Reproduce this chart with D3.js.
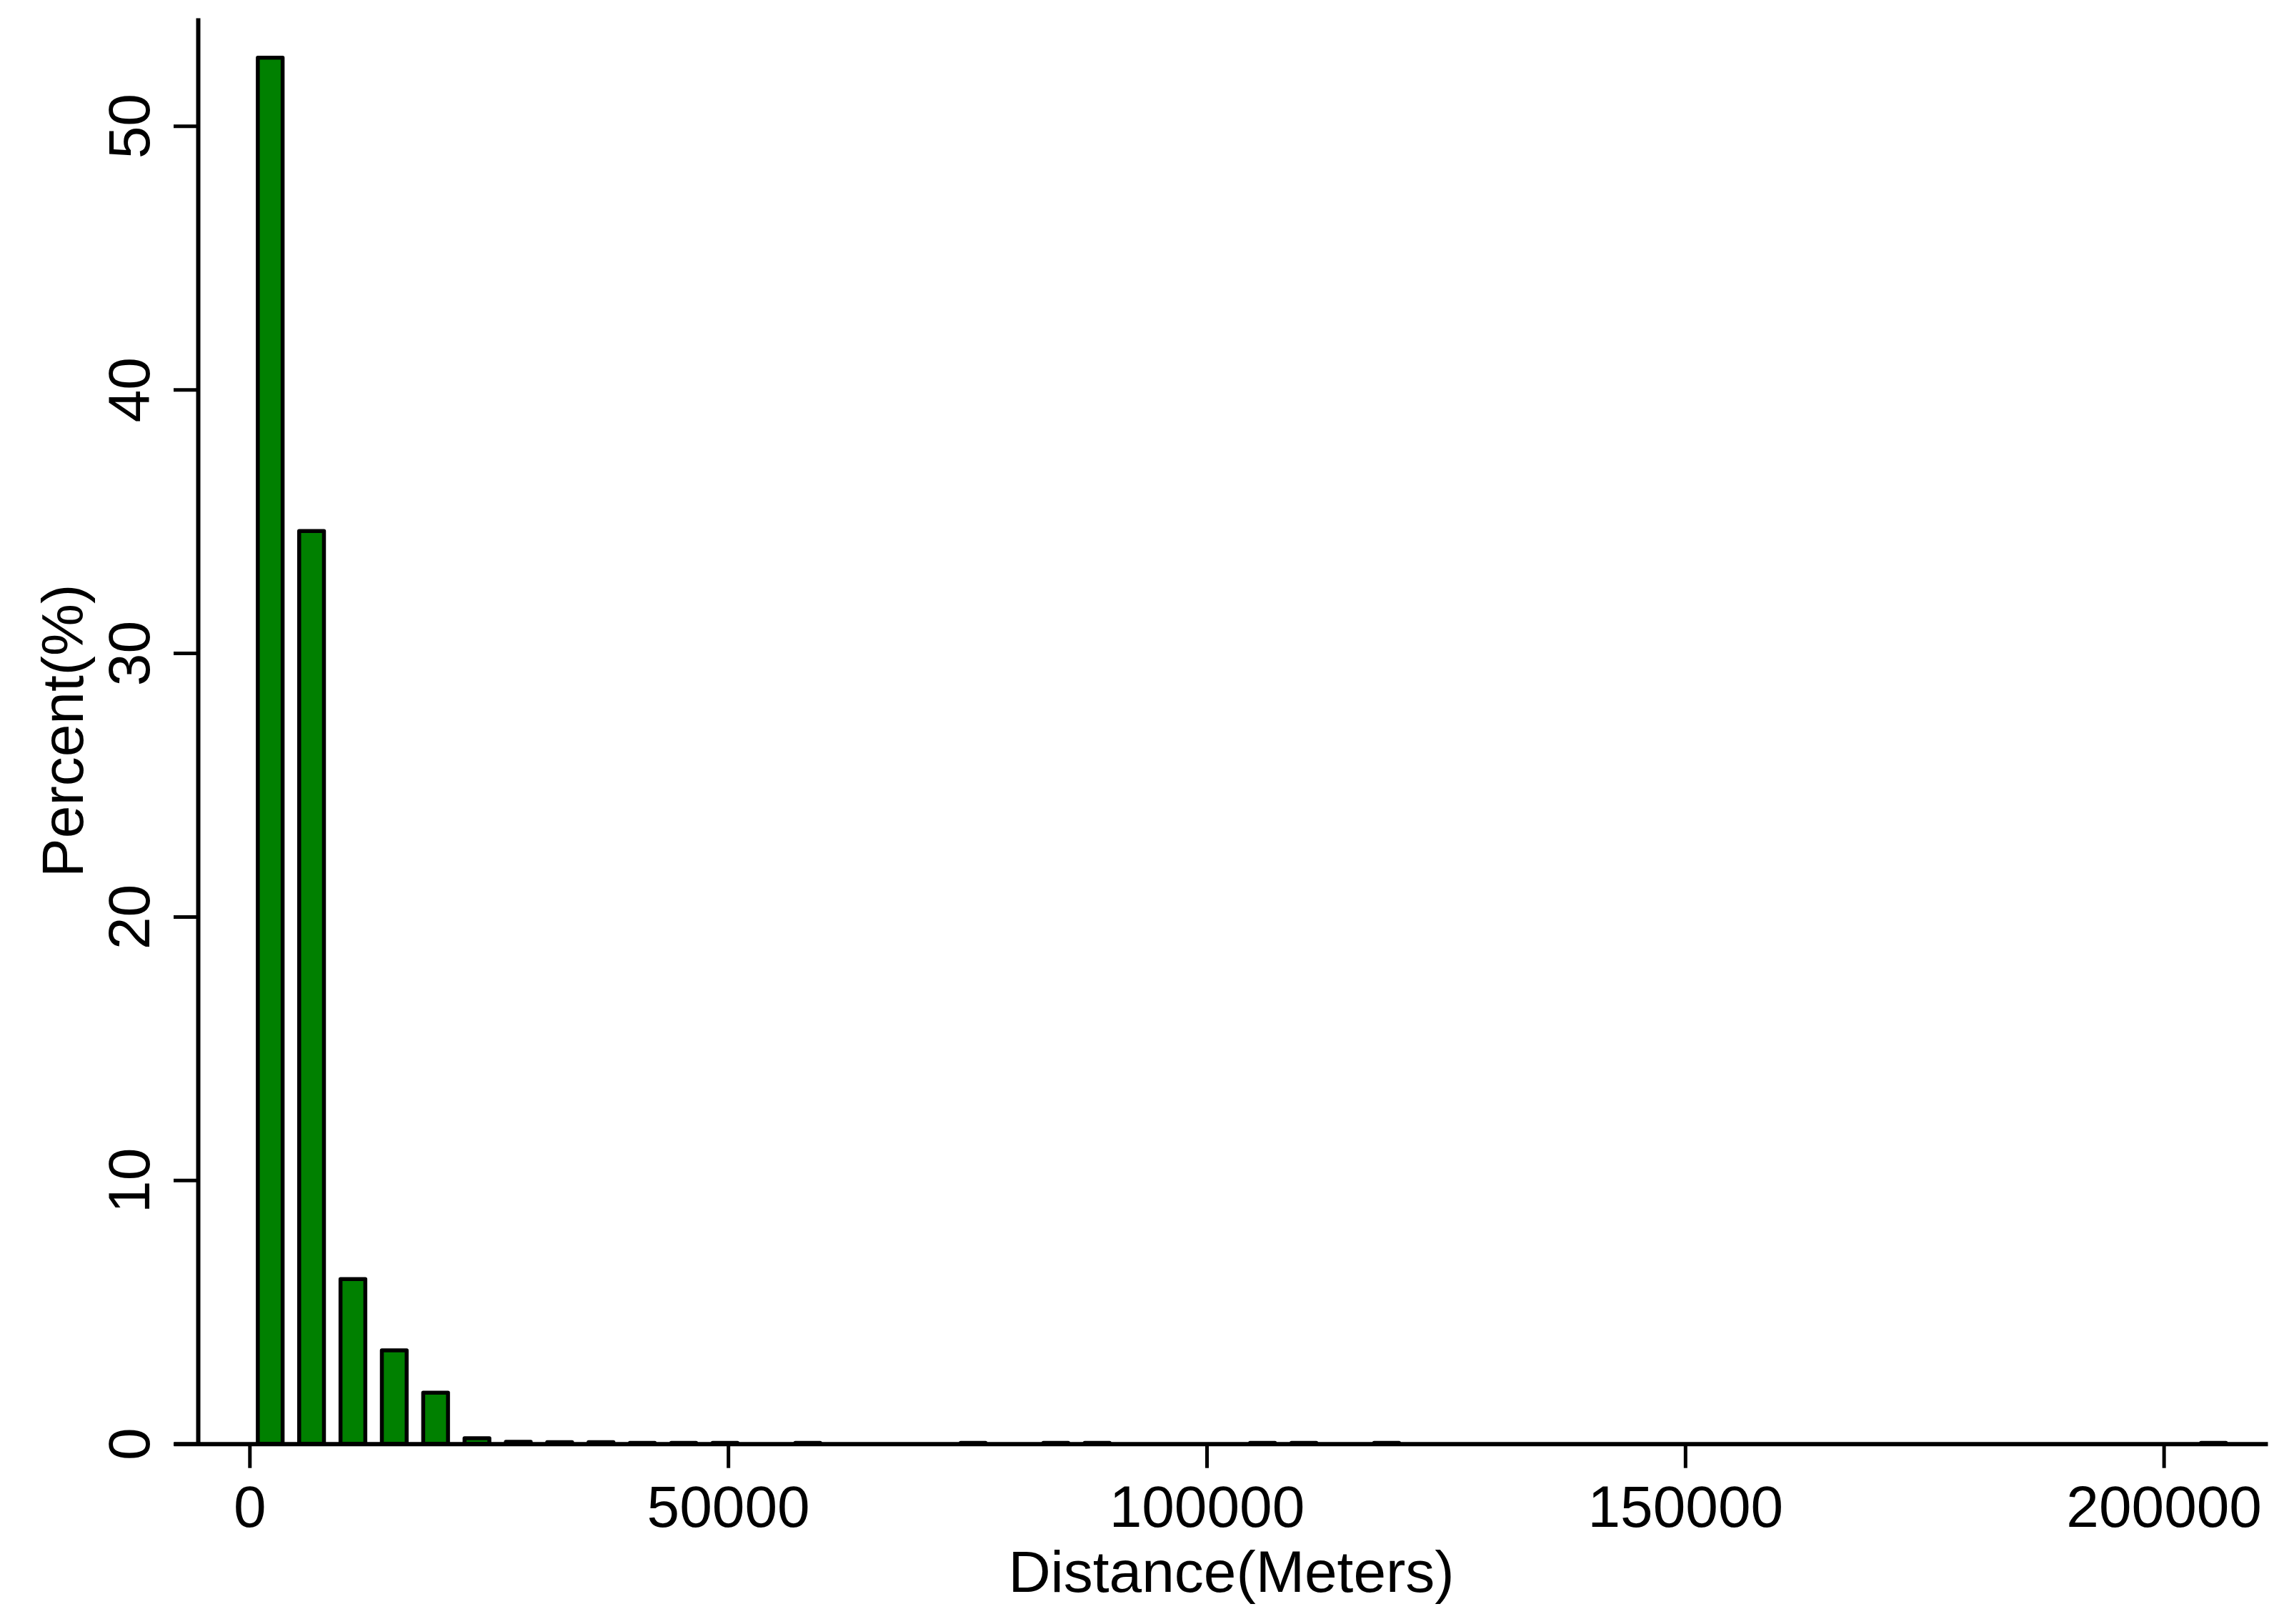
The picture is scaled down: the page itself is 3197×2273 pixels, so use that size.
<!DOCTYPE html>
<html>
<head>
<meta charset="utf-8">
<script src="https://cdn.jsdelivr.net/npm/d3@7"></script>
<style>
  body { margin: 0; background: #fff; }
  text { font-family: "Liberation Sans", Arial, Helvetica, sans-serif; fill: #000; }
</style>
</head>
<body>
<svg width="3197" height="2273"></svg>
<script>
// histogram bins: width in meters, one percent value per bin starting at 0
var binWidth = 4320;
var percents = [
  52.59, 34.63, 6.25, 3.54, 1.94, 0.21, 0.07, 0.06, 0.06, 0.03,
  0.03, 0.03, 0, 0.03, 0, 0, 0, 0.03, 0, 0.03,
  0.03, 0, 0, 0, 0.03, 0.03, 0, 0.03, 0, 0,
  0, 0, 0, 0, 0, 0, 0, 0, 0, 0,
  0, 0, 0, 0, 0, 0, 0, 0.03
];
var xTicks = [0, 50000, 100000, 150000, 200000];
var yTicks = [0, 10, 20, 30, 40, 50];

var svg = d3.select("svg"),
    width = +svg.attr("width"),
    height = +svg.attr("height");

svg.append("rect").attr("width", width).attr("height", height).attr("fill", "#fff");

// scales (x axis line runs a bit past the y axis on the left)
var x = d3.scaleLinear().domain([-7935, 210850]).range([243, 3174]);
var y = d3.scaleLinear().domain([0, 54.1]).range([2020.7, 25]);

var bins = percents.map(function(p, i) {
  return { x0: i * binWidth, x1: (i + 1) * binWidth, value: p };
});

// x axis
var xAxis = svg.append("g")
    .attr("transform", "translate(0," + y(0) + ")")
    .call(d3.axisBottom(x).tickValues(xTicks).tickSize(34).tickSizeOuter(0)
      .tickPadding(24).tickFormat(d3.format("d")));
xAxis.select(".domain").attr("stroke", "#000").attr("stroke-width", 6);
xAxis.selectAll(".tick line").attr("stroke", "#000").attr("stroke-width", 5);
xAxis.selectAll(".tick text").attr("font-size", 82).attr("fill", "#000");

// y axis
var yAxis = svg.append("g")
    .attr("transform", "translate(277,0)")
    .call(d3.axisLeft(y).tickValues(yTicks).tickSize(34).tickSizeOuter(0));
yAxis.select(".domain").attr("stroke", "#000").attr("stroke-width", 6);
yAxis.selectAll(".tick line").attr("stroke", "#000").attr("stroke-width", 5);
yAxis.selectAll(".tick text")
    .attr("font-size", 82)
    .attr("fill", "#000")
    .attr("text-anchor", "middle")
    .attr("transform", "rotate(-90)")
    .attr("x", 0)
    .attr("y", -68)
    .attr("dy", null);

// bars (60% of the bin, centred)
svg.append("g").selectAll("rect")
  .data(bins.filter(function(d) { return d.value > 0; }))
  .enter().append("rect")
    .attr("x", function(d) { return x(d.x0 + 0.2 * binWidth); })
    .attr("width", function(d) { return x(d.x0 + 0.8 * binWidth) - x(d.x0 + 0.2 * binWidth); })
    .attr("y", function(d) { return y(d.value); })
    .attr("height", function(d) { return y(0) - y(d.value); })
    .attr("fill", "#008000")
    .attr("stroke", "#000")
    .attr("stroke-width", 5.5)
    .attr("stroke-linejoin", "round");

// axis titles
svg.append("text")
    .attr("x", (x.range()[0] + x.range()[1]) / 2 + 15)
    .attr("y", 2228)
    .attr("text-anchor", "middle")
    .attr("font-size", 82)
    .text("Distance(Meters)");

svg.append("text")
    .attr("transform", "translate(116," + (y.range()[0] + y.range()[1]) / 2 + ") rotate(-90)")
    .attr("text-anchor", "middle")
    .attr("font-size", 82)
    .text("Percent(%)");
</script>
</body>
</html>
